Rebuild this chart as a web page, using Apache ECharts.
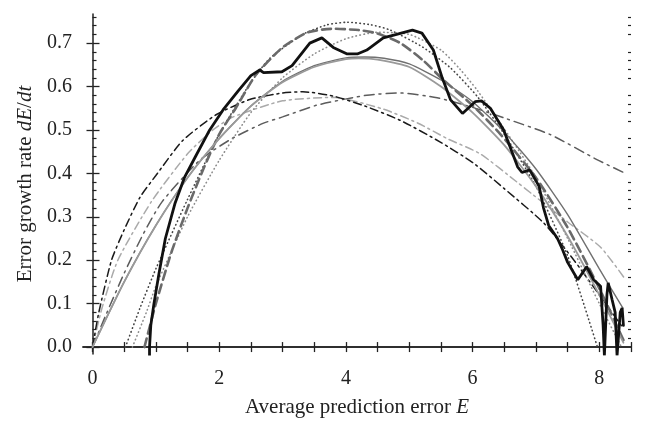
<!DOCTYPE html>
<html lang="en">
<head>
  <meta charset="UTF-8">
  <title>Error growth rate</title>
  <script src="https://cdn.jsdelivr.net/npm/echarts@6.0.0/dist/echarts.min.js"></script>
  <style>
    html, body { margin: 0; padding: 0; background: #fff; }
  </style>
</head>
<body>
  <div id="main" style="width: 647px;height:432px;"></div>

  <script type="text/javascript">
  // tick positions
  var xTicks = [0, 0.5, 1, 1.5, 2, 2.5, 3, 3.5, 4, 4.5, 5, 5.5, 6, 6.5, 7, 7.5, 8, 8.5];
  var xLabels = [0, 2, 4, 6, 8];
  var yLabels = [0, 0.1, 0.2, 0.3, 0.4, 0.5, 0.6, 0.7];
  var yMinor = [0.02, 0.04, 0.06, 0.08, 0.12, 0.14, 0.16, 0.18, 0.22, 0.24, 0.26, 0.28,
                0.32, 0.34, 0.36, 0.38, 0.42, 0.44, 0.46, 0.48, 0.52, 0.54, 0.56, 0.58,
                0.62, 0.64, 0.66, 0.68, 0.72, 0.74, 0.76];

  // observed error growth (thick black)
  var observed = [[0.9,-0.02],[0.9,0.0],[0.92,0.05],[0.97,0.10],[1.05,0.17],[1.15,0.25],[1.3,0.33],
    [1.45,0.39],[1.63,0.44],[1.85,0.50],[2.06,0.546],[2.3,0.59],[2.5,0.625],[2.64,0.638],[2.7,0.632],
    [2.99,0.634],[3.15,0.648],[3.43,0.70],[3.62,0.712],[3.8,0.69],[4.02,0.675],[4.18,0.675],[4.33,0.684],
    [4.59,0.712],[4.8,0.72],[5.05,0.73],[5.2,0.723],[5.38,0.684],[5.52,0.62],[5.65,0.57],[5.84,0.538],
    [6.04,0.565],[6.14,0.567],[6.28,0.55],[6.49,0.50],[6.71,0.415],[6.78,0.402],[6.9,0.408],[7.05,0.37],
    [7.12,0.32],[7.2,0.28],[7.34,0.25],[7.42,0.224],[7.5,0.195],[7.66,0.155],[7.8,0.185],[7.91,0.155],
    [8.02,0.14],[8.06,0.05],[8.08,-0.02],[8.12,0.12],[8.14,0.148],[8.2,0.11],[8.25,0.08],[8.28,-0.02],
    [8.33,0.08],[8.36,0.09],[8.38,0.05]];

  // fitted curves
  var solidA = [[0,0],[0.5,0.15],[1,0.28],[1.5,0.39],[2,0.48],[2.5,0.555],[3,0.61],[3.5,0.645],[4,0.663],
    [4.2,0.665],[4.5,0.662],[5,0.645],[5.5,0.60],[6,0.54],[6.5,0.465],[7,0.37],[7.5,0.255],[8,0.12],[8.38,0.01]];
  var solidB = [[0,0],[0.5,0.15],[1,0.28],[1.5,0.39],[2,0.48],[2.5,0.555],[3,0.612],[3.5,0.648],[4,0.666],
    [4.3,0.668],[4.6,0.665],[5,0.652],[5.5,0.615],[6,0.565],[6.5,0.495],[7,0.41],[7.5,0.305],[8,0.18],[8.37,0.09]];
  var dashedGray = [[0.82,0],[1.0,0.1],[1.25,0.22],[1.5,0.32],[1.75,0.41],[2.0,0.49],[2.26,0.55],[2.58,0.627],
    [3.0,0.69],[3.4,0.725],[3.8,0.733],[4.2,0.73],[4.5,0.722],[4.86,0.70],[5.22,0.66],[5.54,0.615],[6.01,0.555],
    [6.44,0.49],[7.0,0.39],[7.5,0.275],[8.0,0.135],[8.4,0.01]];
  var dottedDark = [[0.52,0],[0.75,0.09],[1.0,0.18],[1.5,0.34],[2.0,0.49],[2.5,0.61],[2.8,0.665],[3.32,0.72],
    [3.7,0.742],[4.02,0.748],[4.4,0.742],[4.7,0.73],[5.22,0.69],[5.65,0.643],[6.08,0.576],[6.5,0.49],[7.0,0.37],
    [7.5,0.21],[7.97,0]];
  var dottedLight = [[0.63,0],[0.85,0.08],[1.0,0.14],[1.5,0.3],[2.0,0.43],[2.5,0.54],[3.0,0.62],[3.5,0.675],
    [4.0,0.71],[4.5,0.725],[5.0,0.72],[5.5,0.684],[5.8,0.64],[6.08,0.59],[6.65,0.47],[7.0,0.39],[7.5,0.25],
    [8.0,0.1],[8.35,0]];
  var dashDotBlack = [[0,0],[0.1,0.08],[0.3,0.2],[0.5,0.27],[0.75,0.345],[1.0,0.395],[1.42,0.475],[1.95,0.535],
    [2.48,0.57],[3.0,0.585],[3.32,0.588],[3.8,0.578],[4.3,0.555],[4.86,0.522],[5.49,0.472],[6.01,0.424],
    [6.49,0.366],[7.12,0.286],[7.6,0.2],[8.0,0.12],[8.37,0.045]];
  var dashDotLight = [[0,0],[0.15,0.09],[0.4,0.2],[0.93,0.335],[1.5,0.445],[1.9,0.5],[2.22,0.53],[3.0,0.567],
    [3.8,0.575],[4.59,0.548],[5.13,0.516],[5.6,0.48],[6.12,0.445],[6.7,0.38],[6.96,0.35],[7.5,0.288],
    [8.02,0.23],[8.39,0.16]];
  var dashDotDark = [[0,0],[0.2,0.07],[0.5,0.17],[0.8,0.26],[1.1,0.335],[1.69,0.43],[2.2,0.48],[2.69,0.515],
    [3.0,0.53],[3.54,0.557],[4.33,0.58],[4.86,0.585],[5.44,0.574],[6.0,0.552],[6.49,0.528],[7.23,0.489],
    [7.97,0.431],[8.37,0.403]];

  var font = "'Liberation Serif', 'DejaVu Serif', serif";
  var ink = '#222';
  var gridBox = {left: 83, right: 16, top: 14, bottom: 78, outerBoundsMode: 'none'};

  function curve(name, data, color, width, type, smooth) {
    return {
      name: name, type: 'line', data: data, xAxisIndex: 0, yAxisIndex: 0,
      showSymbol: false, symbol: 'none', smooth: smooth, clip: true,
      lineStyle: {color: color, width: width, type: type, cap: 'round'},
      z: 2
    };
  }

  var myChart = echarts.init(document.getElementById('main'));
  var option = {
    animation: false,
    backgroundColor: '#fff',
    grid: [gridBox, gridBox],
    xAxis: [
      {
        type: 'value', gridIndex: 0, position: 'bottom', min: -0.15, max: 8.5,
        axisLine: {show: true, lineStyle: {color: ink, width: 1.5}},
        axisTick: {show: true, inside: true, length: 5, customValues: xTicks, lineStyle: {color: ink, width: 1.3}},
        axisLabel: {show: true, customValues: xLabels, margin: 15, fontFamily: font, fontSize: 20, color: ink},
        splitLine: {show: false},
        name: 'Average prediction error {i|E}',
        nameLocation: 'middle', nameGap: 43,
        nameTextStyle: {fontFamily: font, fontSize: 21, color: ink,
          rich: {i: {fontFamily: font, fontSize: 21, fontStyle: 'italic', color: ink}}}
      },
      {
        type: 'value', gridIndex: 0, position: 'top', min: -0.15, max: 8.5,
        axisLine: {show: true, lineStyle: {color: ink, width: 1.5}},
        axisTick: {show: true, inside: true, length: 5, customValues: xTicks, lineStyle: {color: ink, width: 1.3}},
        axisLabel: {show: false},
        splitLine: {show: false}
      },
      {
        type: 'value', gridIndex: 1, min: -0.15, max: 8.5, show: false
      }
    ],
    yAxis: [
      {
        type: 'value', gridIndex: 0, position: 'left', min: -0.016, max: 0.767,
        axisLine: {show: true, lineStyle: {color: ink, width: 1.5}},
        axisTick: {show: true, inside: true, length: 7, customValues: yLabels, lineStyle: {color: ink, width: 1.3}},
        axisLabel: {show: true, customValues: yLabels, margin: 11, fontFamily: font, fontSize: 20, color: ink,
          formatter: function (v) { return v.toFixed(1); }},
        splitLine: {show: false},
        name: 'Error growth rate {i|dE}/{i|dt}',
        nameLocation: 'middle', nameGap: 44,
        nameTextStyle: {fontFamily: font, fontSize: 21, color: ink,
          rich: {i: {fontFamily: font, fontSize: 21, fontStyle: 'italic', color: ink}}}
      },
      {
        type: 'value', gridIndex: 0, position: 'right', min: -0.016, max: 0.767,
        axisLine: {show: false},
        axisTick: {show: true, inside: true, length: 6, customValues: yLabels, lineStyle: {color: ink, width: 1.3}},
        axisLabel: {show: false},
        splitLine: {show: false}
      },
      {
        type: 'value', gridIndex: 1, position: 'left', min: -0.016, max: 0.767,
        axisLine: {show: false},
        axisTick: {show: true, inside: true, length: 4, customValues: yMinor, lineStyle: {color: ink, width: 1.2}},
        axisLabel: {show: false},
        splitLine: {show: false}
      },
      {
        type: 'value', gridIndex: 1, position: 'right', min: -0.016, max: 0.767,
        axisLine: {show: false},
        axisTick: {show: true, inside: true, length: 3, customValues: yMinor, lineStyle: {color: ink, width: 1.2}},
        axisLabel: {show: false},
        splitLine: {show: false}
      }
    ],
    series: [
      curve('dash-dot dark', dashDotDark, '#5c5c5c', 1.5, [10, 5, 2, 5], 0.2),
      curve('dash-dot light', dashDotLight, '#aaaaaa', 1.5, [8, 4, 2, 4], 0.2),
      curve('dash-dot black', dashDotBlack, '#1a1a1a', 1.5, [8, 4, 2, 4], 0.2),
      curve('dotted light', dottedLight, '#8c8c8c', 1.6, [0.5, 3.5], 0.2),
      curve('dotted dark', dottedDark, '#444444', 1.6, [0.5, 3.5], 0.2),
      curve('dashed', dashedGray, '#6a6a6a', 2.6, [9, 5], 0.2),
      curve('solid B', solidB, '#707070', 1.4, 'solid', 0.2),
      curve('solid A', solidA, '#9a9a9a', 1.8, 'solid', 0.2),
      curve('observed', observed, '#111111', 2.8, 'solid', false)
    ]
  };
  myChart.setOption(option, true);
  </script>
</body>
</html>
